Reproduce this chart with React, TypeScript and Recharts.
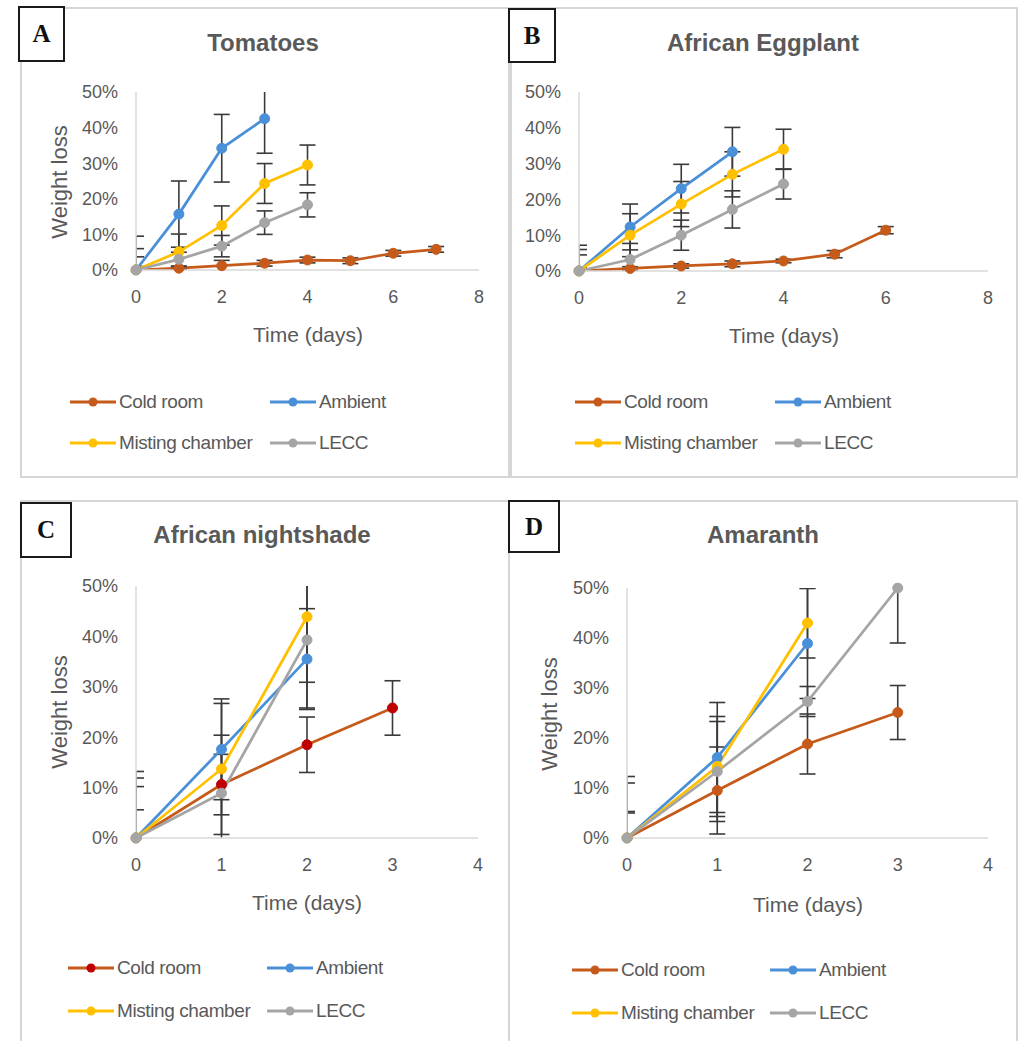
import { ErrorBar, Line, LineChart, XAxis, YAxis } from "recharts";

const TEXT = "#595959";
const AXIS = "#d9d9d9";
const FRAME = "#d6d6d6";
const ERR = "#3a3a3a";
const FONT = '"Liberation Sans", Arial, Helvetica, sans-serif';

const SERIES = [
  { key: "cold", name: "Cold room", color: "#c55a1a" },
  { key: "ambient", name: "Ambient", color: "#4a90d9" },
  { key: "misting", name: "Misting chamber", color: "#ffc000" },
  { key: "lecc", name: "LECC", color: "#a5a5a5" },
];

const Y_TICKS = [0, 10, 20, 30, 40, 50];
const X_TICKS_LONG = [0, 2, 4, 6, 8];
const X_TICKS_SHORT = [0, 1, 2, 3, 4];

// weight loss (%) by day, index = day; *_SD = error bar (±)
// A  Tomatoes
const TOM_COLD = [0, 0.5, 1.2, 1.9, 2.8, 2.6, 4.7, 5.8];
const TOM_COLD_SD = [1, 0.6, 1.5, 0.8, 0.8, 0.8, 0.8, 0.8];
const TOM_AMB = [0, 15.7, 34.2, 42.5];
const TOM_AMB_SD = [9.5, 9.3, 9.5, 9.7];
const TOM_MIST = [0, 5.1, 12.5, 24.3, 29.5];
const TOM_MIST_SD = [6, 5, 5.5, 5.6, 5.6];
const TOM_LECC = [0, 3, 6.7, 13.3, 18.3];
const TOM_LECC_SD = [3.7, 2, 3, 3.3, 3.4];

// B  African Eggplant
const EGG_COLD = [0, 0.7, 1.4, 2, 2.8, 4.7, 11.4];
const EGG_COLD_SD = [1, 0.5, 0.6, 0.8, 0.5, 1, 1];
const EGG_AMB = [0, 12.3, 23, 33.3];
const EGG_AMB_SD = [7.2, 6.4, 6.8, 6.8];
const EGG_MIST = [0, 10, 18.7, 27, 34];
const EGG_MIST_SD = [6, 6, 6.3, 6.3, 5.6];
const EGG_LECC = [0, 3.2, 10, 17.2, 24.3];
const EGG_LECC_SD = [4.5, 4.5, 4.2, 5.2, 4.2];

// C  African nightshade
const NS_COLD = [0, 10.6, 18.5, 25.8];
const NS_COLD_SD = [5.6, 6, 5.5, 5.4];
const NS_AMB = [0, 17.6, 35.5];
const NS_AMB_SD = [13.2, 10, 10];
const NS_MIST = [0, 13.7, 43.9];
const NS_MIST_SD = [11.9, 13, 13];
const NS_LECC = [0, 8.9, 39.3];
const NS_LECC_SD = [10.2, 11.5, 13.5];

// D  Amaranth
const AM_COLD = [0, 9.5, 18.8, 25.1];
const AM_COLD_SD = [5.3, 8.7, 6, 5.4];
const AM_AMB = [0, 16.1, 38.9];
const AM_AMB_SD = [12.3, 11, 11];
const AM_MIST = [0, 14.3, 43];
const AM_MIST_SD = [11, 10, 7];
const AM_LECC = [0, 13.3, 27.3, 50];
const AM_LECC_SD = [5, 10, 3, 11];

type Row = { day: number; loss: number; sd: number };
const rows = (v: number[], sd: number[]): Row[] =>
  v.map((loss, day) => ({ day, loss, sd: sd[day] }));

type Box = { left: number; top: number; width: number; height: number };
type Plot = { left: number; top: number; right: number; bottom: number };
type Pt = { x: number; y: number };

type PanelProps = {
  id: string;
  letter: string;
  letterBox: Box;
  title: string;
  titleAt: Pt;
  box: Box;
  plot: Plot;
  xMax: number;
  xTicks: number[];
  xTitleAt: Pt;
  yTitleAt?: Pt;
  legendCols: [number, number];
  legendRows: [number, number];
  data: Row[][];
  coldDot?: string;
};

function LegendKey({ color, dot }: { color: string; dot?: string }) {
  return (
    <svg width={46} height={14} style={{ display: "block" }}>
      <line x1={0} x2={46} y1={7} y2={7} stroke={color} strokeWidth={3} />
      <circle cx={23} cy={7} r={4.5} fill={dot ?? color} />
    </svg>
  );
}

function Panel(p: PanelProps) {
  const { box, plot } = p;
  const YW = 60;
  const XH = 50;
  const margin = {
    top: plot.top - box.top,
    left: plot.left - box.left - YW,
    right: box.left + box.width - plot.right,
    bottom: box.top + box.height - plot.bottom - XH,
  };
  const clipId = `clip-${p.id}`;
  const tick = { fill: TEXT, fontSize: 18, fontFamily: FONT };
  const textBase = {
    position: "absolute" as const,
    color: TEXT,
    fontFamily: FONT,
    whiteSpace: "nowrap" as const,
    transform: "translate(-50%, -50%)",
  };
  return (
    <>
      <div
        style={{
          position: "absolute",
          left: box.left,
          top: box.top,
          width: box.width,
          height: box.height,
          border: `2px solid ${FRAME}`,
          boxSizing: "border-box",
          background: "#fff",
        }}
      />
      {/* error bars are clipped to the plot area, like the original */}
      <svg width={0} height={0} style={{ position: "absolute" }}>
        <defs>
          <clipPath id={clipId} clipPathUnits="userSpaceOnUse">
            <rect
              x={plot.left - box.left}
              y={plot.top - box.top}
              width={plot.right - plot.left}
              height={plot.bottom - plot.top}
            />
          </clipPath>
        </defs>
      </svg>
      <style>{`.${p.id} .recharts-errorBars { clip-path: url(#${clipId}); }`}</style>
      <div className={p.id} style={{ position: "absolute", left: box.left, top: box.top }}>
        <LineChart width={box.width} height={box.height} margin={margin}>
          <XAxis
            type="number"
            dataKey="day"
            domain={[0, p.xMax]}
            ticks={p.xTicks}
            interval={0}
            height={XH}
            tickLine={false}
            tickSize={0}
            tickMargin={20}
            axisLine={{ stroke: AXIS, strokeWidth: 1.5 }}
            tick={tick}
          />
          <YAxis
            type="number"
            domain={[0, 50]}
            ticks={Y_TICKS}
            allowDataOverflow
            interval={0}
            width={YW}
            tickLine={false}
            tickSize={0}
            tickMargin={18}
            axisLine={{ stroke: AXIS, strokeWidth: 1.5 }}
            tick={tick}
            tickFormatter={(v) => `${v}%`}
          />
          {SERIES.map((s, i) => (
            <Line
              key={s.key}
              data={p.data[i]}
              dataKey="loss"
              name={s.name}
              stroke={s.color}
              strokeWidth={2.75}
              dot={{
                r: 5,
                clipDot: false,
                fill: i === 0 && p.coldDot ? p.coldDot : s.color,
                stroke: i === 0 && p.coldDot ? p.coldDot : s.color,
                strokeWidth: 1,
              }}
              activeDot={false}
              isAnimationActive={false}
            >
              <ErrorBar dataKey="sd" width={8} stroke={ERR} strokeWidth={1.6} direction="y" />
            </Line>
          ))}
        </LineChart>
      </div>
      <div
        style={{
          position: "absolute",
          left: p.letterBox.left,
          top: p.letterBox.top,
          width: p.letterBox.width,
          height: p.letterBox.height,
          border: "2px solid #1a1a1a",
          boxSizing: "border-box",
          background: "#fff",
          display: "flex",
          alignItems: "center",
          justifyContent: "center",
          fontFamily: '"Liberation Serif", "Times New Roman", serif',
          fontWeight: 700,
          fontSize: 25,
          color: "#111",
        }}
      >
        {p.letter}
      </div>
      <div style={{ ...textBase, left: p.titleAt.x, top: p.titleAt.y, fontSize: 24, fontWeight: 700 }}>
        {p.title}
      </div>
      <div style={{ ...textBase, left: p.xTitleAt.x, top: p.xTitleAt.y, fontSize: 21 }}>Time (days)</div>
      {p.yTitleAt && (
        <div
          style={{
            ...textBase,
            left: p.yTitleAt.x,
            top: p.yTitleAt.y,
            fontSize: 22,
            transform: "translate(-50%, -50%) rotate(-90deg)",
          }}
        >
          Weight loss
        </div>
      )}
      {SERIES.map((s, i) => (
        <div
          key={s.key}
          style={{
            position: "absolute",
            left: p.legendCols[i % 2],
            top: p.legendRows[Math.floor(i / 2)] - 12,
            height: 24,
            display: "flex",
            alignItems: "center",
            gap: 3,
            fontFamily: FONT,
            fontSize: 19,
            color: TEXT,
            whiteSpace: "nowrap",
          }}
        >
          <LegendKey color={s.color} dot={i === 0 ? p.coldDot : undefined} />
          <span style={{ letterSpacing: -0.4 }}>{s.name}</span>
        </div>
      ))}
    </>
  );
}

export default function App() {
  return (
    <div style={{ position: "absolute", left: 0, top: 0, width: 1020, height: 1041, background: "#fff", overflow: "hidden" }}>
      <Panel
        id="pA"
        letter="A"
        letterBox={{ left: 18, top: 6, width: 47, height: 56 }}
        title="Tomatoes"
        titleAt={{ x: 263, y: 43 }}
        box={{ left: 20, top: 7, width: 490, height: 471 }}
        plot={{ left: 136, top: 92, right: 479, bottom: 270 }}
        xMax={8}
        xTicks={X_TICKS_LONG}
        xTitleAt={{ x: 308, y: 335 }}
        yTitleAt={{ x: 60, y: 182 }}
        legendCols={[70, 270]}
        legendRows={[402, 443]}
        data={[
          rows(TOM_COLD, TOM_COLD_SD),
          rows(TOM_AMB, TOM_AMB_SD),
          rows(TOM_MIST, TOM_MIST_SD),
          rows(TOM_LECC, TOM_LECC_SD),
        ]}
      />
      <Panel
        id="pB"
        letter="B"
        letterBox={{ left: 508, top: 8, width: 48, height: 55 }}
        title="African Eggplant"
        titleAt={{ x: 763, y: 43 }}
        box={{ left: 510, top: 7, width: 508, height: 471 }}
        plot={{ left: 579, top: 92, right: 988, bottom: 271 }}
        xMax={8}
        xTicks={X_TICKS_LONG}
        xTitleAt={{ x: 784, y: 336 }}
        legendCols={[575, 775]}
        legendRows={[402, 443]}
        data={[
          rows(EGG_COLD, EGG_COLD_SD),
          rows(EGG_AMB, EGG_AMB_SD),
          rows(EGG_MIST, EGG_MIST_SD),
          rows(EGG_LECC, EGG_LECC_SD),
        ]}
      />
      <Panel
        id="pC"
        letter="C"
        letterBox={{ left: 20, top: 502, width: 52, height: 56 }}
        title="African nightshade"
        titleAt={{ x: 262, y: 535 }}
        box={{ left: 20, top: 500, width: 490, height: 545 }}
        plot={{ left: 136, top: 586, right: 478, bottom: 838 }}
        xMax={4}
        xTicks={X_TICKS_SHORT}
        xTitleAt={{ x: 307, y: 903 }}
        yTitleAt={{ x: 60, y: 712 }}
        legendCols={[68, 267]}
        legendRows={[968, 1011]}
        coldDot="#c00000"
        data={[
          rows(NS_COLD, NS_COLD_SD),
          rows(NS_AMB, NS_AMB_SD),
          rows(NS_MIST, NS_MIST_SD),
          rows(NS_LECC, NS_LECC_SD),
        ]}
      />
      <Panel
        id="pD"
        letter="D"
        letterBox={{ left: 508, top: 500, width: 52, height: 53 }}
        title="Amaranth"
        titleAt={{ x: 763, y: 535 }}
        box={{ left: 508, top: 500, width: 510, height: 545 }}
        plot={{ left: 627, top: 588, right: 988, bottom: 838 }}
        xMax={4}
        xTicks={X_TICKS_SHORT}
        xTitleAt={{ x: 808, y: 905 }}
        yTitleAt={{ x: 550, y: 714 }}
        legendCols={[572, 770]}
        legendRows={[970, 1013]}
        data={[
          rows(AM_COLD, AM_COLD_SD),
          rows(AM_AMB, AM_AMB_SD),
          rows(AM_MIST, AM_MIST_SD),
          rows(AM_LECC, AM_LECC_SD),
        ]}
      />
    </div>
  );
}
